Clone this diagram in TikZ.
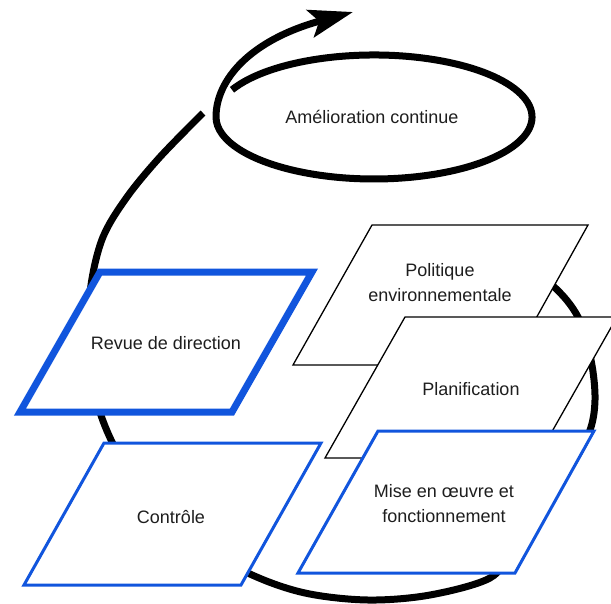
\documentclass[tikz,border=0pt]{standalone}
\usepackage{fontspec}
\setmainfont{Liberation Sans}
\usetikzlibrary{arrows.meta}
\definecolor{boxblue}{RGB}{17,85,221}
\definecolor{txt}{RGB}{30,30,30}
\begin{document}
\begin{tikzpicture}[x=1pt,y=-1pt,
  lbl/.style={font=\fontsize{18}{25}\selectfont, text=txt, align=center, inner sep=0pt},
  pbox/.style={fill=white, draw=black, line width=1.3pt},
  bluebox/.style={pbox, draw=boxblue, line width=3pt},
  bluethick/.style={pbox, draw=boxblue, line width=7pt},
  loopline/.style={line width=7pt, draw=black}
]
\useasboundingbox (0,0) rectangle (611,603);

% big spiral (drawn below the boxes)
\draw[loopline] plot[smooth, tension=0.55] coordinates {
  (505,252) (552,285) (578,317) (591,360) (595,400) (589,433) (567,473)
  (538,515) (512,550) (490,578) (430,595) (368,600) (305,593) (250,574)
  (190,540) (140,490) (112,442) (96,398) (88,340) (91,285) (103,237)
  (127,197) (160,157) (203,113)};

% small loop with arrow
\coordinate (loopstart) at (232,89.8);
\coordinate (tip) at (353,12);
\draw[loopline, -{Stealth[length=44pt,width=28pt,inset=9pt]}]
  (loopstart) arc[start angle=206, end angle=540, x radius=158, y radius=62]
  .. controls (216,80) and (250,40) .. (tip);
\node[lbl] (amelio) at (372,117) {Amélioration continue};

% left boxes
\draw[bluethick] (100,272) -- (312,272) -- (232,412) -- (20,412) -- cycle;
\node[lbl] (revue) at (166,343) {Revue de direction};

\draw[bluebox] (104,443) -- (321,443) -- (241,585) -- (24,585) -- cycle;
\node[lbl] (controle) at (171,517) {Contrôle};

% right boxes
\draw[pbox] (372,225) -- (588,225) -- (510,365) -- (293,365) -- cycle;
\node[lbl] (politique) at (440,283) {Politique\\environnementale};

\draw[pbox] (405,317) -- (617,317) -- (537,458) -- (325,458) -- cycle;
\node[lbl] (planif) at (471,389) {Planification};

\draw[bluebox] (378,431) -- (594,431) -- (515,573) -- (298,573) -- cycle;
\node[lbl] (mise) at (444,504) {Mise en œuvre et\\fonctionnement};
\end{tikzpicture}
\end{document}
